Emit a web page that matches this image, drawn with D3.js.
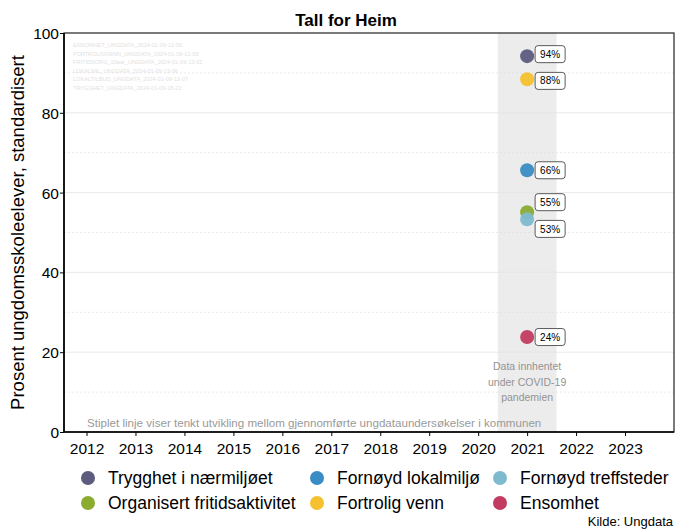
<!DOCTYPE html>
<html>
<head>
<meta charset="utf-8">
<script src="https://cdn.jsdelivr.net/npm/d3@7"></script>
<style>
  body { margin: 0; background: #fff; }
  text { font-family: Arial, "Liberation Sans", sans-serif; }
</style>
</head>
<body>
<svg id="chart" width="676" height="531"></svg>
<script>
var indicators = ["Trygghet i nærmiljøet", "Fornøyd lokalmiljø", "Fornøyd treffsteder",
                  "Organisert fritidsaktivitet", "Fortrolig venn", "Ensomhet"];
var colors = ["#5d5c7f", "#3a8dc4", "#7fbbcf", "#8bab31", "#f6c12e", "#c23c61"];
var years = [2021, 2021, 2021, 2021, 2021, 2021];
var values = [94.2, 65.6, 53.3, 55.1, 88.4, 23.8];
var valueLabels = ["94%", "66%", "53%", "55%", "88%", "24%"];
// label nudges (value units) so the boxes don't overlap, like ggrepel
var labelNudge = [0.5, 0, -2.4, 2.5, -0.4, 0];
var yearTicks = [2012, 2013, 2014, 2015, 2016, 2017, 2018, 2019, 2020, 2021, 2022, 2023];
var yTicks = [0, 20, 40, 60, 80, 100];
var yMinor = [10, 30, 50, 70, 90];
var fileNotes = ["ENSOMHET_UNGDATA_2024-01-09-12-50", "FORTROLIGVENN_UNGDATA_2024-01-09-12-58",
                 "FRITIDSORG_10aar_UNGDATA_2024-01-09-13-01", "LOKALMIL_UNGDATA_2024-01-09-13-06",
                 "LOKALTILBUD_UNGDATA_2024-01-09-13-07", "TRYGGHET_UNGDATA_2024-01-09-18-22"];
var covidNote = ["Data innhentet", "under COVID-19", "pandemien"];

var svg = d3.select("#chart");
var margin = { top: 33, right: 2, bottom: 99, left: 64 };
var width = 676, height = 531;

var x = d3.scaleLinear().domain([2011.54, 2024]).range([margin.left, width - margin.right]);
var y = d3.scaleLinear().domain([0, 100]).range([height - margin.bottom, margin.top]);

// title
svg.append("text").attr("x", 346).attr("y", 26)
  .attr("text-anchor", "middle").style("font-size", "17px").style("font-weight", "bold")
  .text("Tall for Heim");

// covid band
svg.append("rect")
  .attr("x", x(2020.4)).attr("y", y(100))
  .attr("width", x(2021.6) - x(2020.4)).attr("height", y(0) - y(100))
  .attr("fill", "#ececec");

// grid lines
svg.append("g").selectAll("line").data(yMinor).enter().append("line")
  .attr("x1", margin.left).attr("x2", width - margin.right)
  .attr("y1", d => y(d)).attr("y2", d => y(d))
  .attr("stroke", "#dcdcdc").attr("stroke-width", 0.6).attr("stroke-dasharray", "2,2");
svg.append("g").selectAll("line").data(yTicks.slice(1, -1)).enter().append("line")
  .attr("x1", margin.left).attr("x2", width - margin.right)
  .attr("y1", d => y(d)).attr("y2", d => y(d))
  .attr("stroke", "#e4e4e4").attr("stroke-width", 0.8);

// file notes watermark
svg.append("g").selectAll("text").data(fileNotes).enter().append("text")
  .attr("x", 73).attr("y", (d, i) => 47 + i * 8.5)
  .style("font-size", "5.6px").attr("fill", "#e2e2e2")
  .text(d => d);

// covid note
svg.append("g").selectAll("text").data(covidNote).enter().append("text")
  .attr("x", x(2021)).attr("y", (d, i) => 370 + i * 15.5)
  .attr("text-anchor", "middle").style("font-size", "10.5px").attr("fill", "#939393")
  .text(d => d);

// footnote inside panel
svg.append("text").attr("x", 87).attr("y", 427)
  .style("font-size", "11.6px").attr("fill", "#9a9a9a")
  .text("Stiplet linje viser tenkt utvikling mellom gjennomførte ungdataundersøkelser i kommunen");

// axes
var xAxis = svg.append("g")
  .attr("transform", `translate(0,${y(0)})`)
  .call(d3.axisBottom(x).tickValues(yearTicks).tickFormat(d3.format("d")).tickSize(4).tickSizeOuter(0));
xAxis.select(".domain").remove();
xAxis.selectAll("text").style("font-size", "15.5px").attr("fill", "#000").attr("y", 11).attr("dy", "0.71em");
xAxis.selectAll("line").attr("stroke", "#000");

var yAxis = svg.append("g")
  .attr("transform", `translate(${margin.left},0)`)
  .call(d3.axisLeft(y).tickValues(yTicks).tickSize(4).tickPadding(1).tickSizeOuter(0));
yAxis.select(".domain").remove();
yAxis.selectAll("text").style("font-size", "15.5px").attr("fill", "#000").attr("dy", "0.36em");
yAxis.selectAll("line").attr("stroke", "#000");

// panel border
svg.append("rect")
  .attr("x", margin.left).attr("y", y(100))
  .attr("width", width - margin.right - margin.left).attr("height", y(0) - y(100))
  .attr("fill", "none").attr("stroke", "#222").attr("stroke-width", 1.2);
svg.append("path")
  .attr("d", `M${margin.left},${y(100)}V${y(0)}H${width - margin.right}`)
  .attr("fill", "none").attr("stroke", "#000").attr("stroke-width", 1.6);

// y label
svg.append("text")
  .attr("transform", `translate(24,${(y(0) + y(100)) / 2}) rotate(-90)`)
  .attr("text-anchor", "middle").style("font-size", "18.5px")
  .text("Prosent ungdomsskoleelever, standardisert");

// points
var data = indicators.map((d, i) => ({ name: d, color: colors[i], year: years[i], value: values[i],
                                       label: valueLabels[i], nudge: labelNudge[i] }));
var drawOrder = [4, 0, 1, 3, 2, 5];
svg.append("g").selectAll("circle").data(drawOrder.map(i => data[i])).enter().append("circle")
  .attr("cx", d => x(d.year)).attr("cy", d => y(d.value))
  .attr("r", 7).attr("fill", d => d.color).attr("fill-opacity", 0.95);

// value labels
var lab = svg.append("g").selectAll("g").data(data).enter().append("g")
  .attr("transform", d => `translate(${x(d.year) + 8},${y(d.value + d.nudge)})`);
lab.append("rect")
  .attr("x", 0).attr("y", -8.5).attr("width", 30).attr("height", 17)
  .attr("rx", 3).attr("fill", "#fff").attr("stroke", "#333").attr("stroke-width", 0.8);
lab.append("text")
  .attr("x", 15).attr("y", 0).attr("dy", "0.36em").attr("text-anchor", "middle")
  .style("font-size", "10px").text(d => d.label);

// legend
var legendPos = [[88, 478], [317, 478], [500, 478], [88, 503], [317, 503], [500, 503]];
var leg = svg.append("g").selectAll("g").data(data).enter().append("g")
  .attr("transform", (d, i) => `translate(${legendPos[i][0]},${legendPos[i][1]})`);
leg.append("circle").attr("r", 7).attr("fill", d => d.color);
leg.append("text").attr("x", 20).attr("dy", "0.36em")
  .style("font-size", "17.5px").text(d => d.name);

// caption
svg.append("text").attr("x", 673).attr("y", 526).attr("text-anchor", "end")
  .style("font-size", "13px").text("Kilde: Ungdata");
</script>
</body>
</html>
